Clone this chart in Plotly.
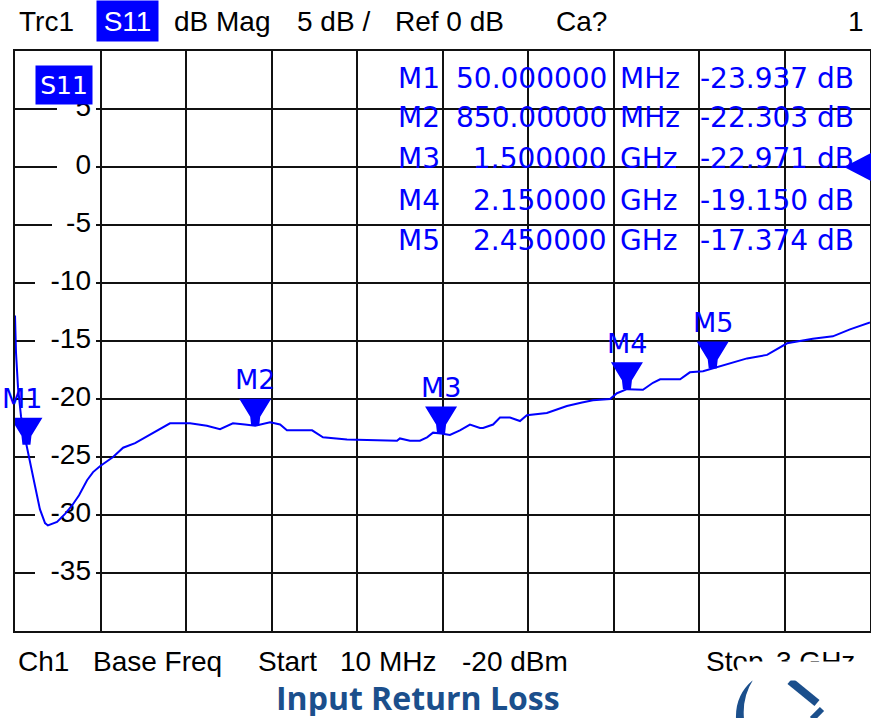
import plotly.graph_objects as go

# ---------------- data ----------------
freq_ghz = [0.010, 0.0135, 0.0205, 0.031, 0.050, 0.062, 0.080, 0.097, 0.115, 0.125,
            0.157, 0.185, 0.209, 0.234, 0.262, 0.283, 0.307, 0.353, 0.388, 0.430,
            0.465, 0.507, 0.528, 0.552, 0.622, 0.681, 0.727, 0.772, 0.814, 0.850,
            0.902, 0.937, 0.961, 1.049, 1.087, 1.171, 1.346, 1.356, 1.391, 1.426,
            1.451, 1.472, 1.500, 1.531, 1.566, 1.601, 1.636, 1.647, 1.682, 1.706,
            1.741, 1.776, 1.800, 1.870, 1.905, 1.940, 1.993, 2.031, 2.091, 2.115,
            2.150, 2.206, 2.241, 2.266, 2.336, 2.370, 2.416, 2.450, 2.485, 2.570,
            2.640, 2.710, 2.800, 2.870, 2.930, 3.000]
s11_db = [-12.8, -16.0, -19.0, -21.5, -23.94, -25.5, -27.5, -29.5, -30.7, -30.9,
          -30.6, -29.9, -29.2, -28.3, -27.0, -26.3, -25.8, -25.0, -24.2, -23.8,
          -23.3, -22.7, -22.4, -22.1, -22.1, -22.3, -22.6, -22.1, -22.2, -22.30,
          -22.0, -22.2, -22.7, -22.7, -23.3, -23.5, -23.6, -23.4, -23.6, -23.6,
          -23.3, -22.9, -22.97, -23.1, -22.7, -22.2, -22.5, -22.5, -22.2, -21.6,
          -21.6, -21.9, -21.4, -21.2, -20.9, -20.6, -20.3, -20.1, -20.0, -19.5,
          -19.15, -19.2, -18.6, -18.3, -18.3, -17.7, -17.6, -17.37, -17.1, -16.5,
          -16.2, -15.2, -14.8, -14.6, -14.0, -13.4]

marker_names = ["M1", "M2", "M3", "M4", "M5"]
marker_freq = [0.05, 0.85, 1.5, 2.15, 2.45]
marker_db = [-23.937, -22.303, -22.971, -19.150, -17.374]
marker_freq_text = ["50.000000", "850.00000", "1.500000", "2.150000", "2.450000"]
marker_unit = ["MHz", "MHz", "GHz", "GHz", "GHz"]

ytick_vals = [5, 0, -5, -10, -15, -20, -25, -30, -35]
ytick_text = ["5", "0", "-5", "-10", "-15", "-20", "-25", "-30", "-35"]

X_RANGE = [0.01, 3.0]
Y_RANGE = [-40, 10]
X_DTICK = 0.299
Y_DTICK = 5
REF_LEVEL = 0

# ---------------- layout helpers ----------------
W, H = 871, 718
L, R, T, B = 15, 1, 51, 87
PW = W - L - R
PH = H - T - B


def px(x):
    return (x - L) / PW


def py(y):
    return (H - B - y) / PH


def px_to_x(x):
    return X_RANGE[0] + (x - L) / PW * (X_RANGE[1] - X_RANGE[0])


BLUE = "#0000ff"
DARK = "#1b4f8c"
NARROW = "Liberation Sans, Arial, sans-serif"
MFONT = "DejaVu Sans, Verdana, sans-serif"

fig = go.Figure()

# y tick labels inside the first column
label_x = px_to_x(91)
fig.add_trace(go.Scatter(
    x=[label_x] * len(ytick_vals), y=ytick_vals, text=ytick_text,
    mode="text", textposition="middle left",
    textfont=dict(family=NARROW, size=28, color="black"),
    hoverinfo="skip", showlegend=False, cliponaxis=False))

# measured trace
fig.add_trace(go.Scatter(
    x=freq_ghz, y=s11_db, mode="lines",
    line=dict(color=BLUE, width=2), hoverinfo="skip", showlegend=False))

shapes = []
annotations = []

# white gaps in the grid behind tick labels
gap_by_len = {1: 40, 2: 45, 3: 62}
for t in ytick_text:
    g = gap_by_len[len(t)]
    shapes.append(dict(type="rect", xref="x", yref="y", xsizemode="pixel", ysizemode="pixel",
                       xanchor=label_x, yanchor=float(t), x0=6 - g, x1=5, y0=-3, y1=3,
                       fillcolor="white", line=dict(width=0), layer="between"))

# marker triangles and labels
for name, f, v in zip(marker_names, marker_freq, marker_db):
    shapes.append(dict(type="path", xref="x", yref="y", xsizemode="pixel", ysizemode="pixel",
                       xanchor=f, yanchor=v,
                       path="M -16,27 L 16,27 L 5,9 L 4,0 L -4,0 L -5,9 Z",
                       fillcolor=BLUE, line=dict(width=0), layer="above"))
    annotations.append(dict(x=f, y=v, xref="x", yref="y", text=name, showarrow=False,
                            yshift=46, xshift=-4 if name == "M1" else 0,
                            font=dict(family=MFONT, size=27, color=BLUE)))

# reference level arrow at right
shapes.append(dict(type="path", xref="paper", yref="y", xsizemode="pixel", ysizemode="pixel",
                   xanchor=1, yanchor=REF_LEVEL, path="M 1,14 L -26,0 L 1,-14 Z",
                   fillcolor=BLUE, line=dict(width=0), layer="above"))

# marker table
row_y = [78, 118, 158, 200, 240]
for name, ft, un, v, yy in zip(marker_names, marker_freq_text, marker_unit, marker_db, row_y):
    fnt = dict(family=MFONT, size=28, color=BLUE)
    annotations.append(dict(x=px(396), y=py(yy), xref="paper", yref="paper", text=name,
                            xanchor="left", yanchor="middle", showarrow=False, font=fnt))
    annotations.append(dict(x=px(609), y=py(yy), xref="paper", yref="paper", text=ft,
                            xanchor="right", yanchor="middle", showarrow=False, font=fnt))
    annotations.append(dict(x=px(618), y=py(yy), xref="paper", yref="paper", text=un,
                            xanchor="left", yanchor="middle", showarrow=False, font=fnt))
    annotations.append(dict(x=px(698), y=py(yy), xref="paper", yref="paper",
                            text=f"{v:.3f} dB", xanchor="left", yanchor="middle",
                            showarrow=False, font=fnt))

# S11 tag inside the plot
annotations.append(dict(x=px(35), y=py(65), xref="paper", yref="paper", text="S11",
                        xanchor="left", yanchor="top", showarrow=False,
                        bgcolor=BLUE, width=56, height=38, borderpad=0,
                        font=dict(family=MFONT, size=25, color="white")))

# header
annotations.append(dict(x=px(96), y=py(0), xref="paper", yref="paper", text="S11",
                        xanchor="left", yanchor="top", showarrow=False,
                        bgcolor=BLUE, width=61, height=40, borderpad=0,
                        font=dict(family=NARROW, size=28, color="white")))
hfont = dict(family=NARROW, size=28, color="black")
for txt, x0 in [("Trc1", 17), ("dB Mag", 172), ("5 dB /", 295), ("Ref 0 dB", 393), ("Ca?", 554)]:
    annotations.append(dict(x=px(x0), y=py(21), xref="paper", yref="paper", text=txt,
                            xanchor="left", yanchor="middle", showarrow=False, font=hfont))
annotations.append(dict(x=px(866), y=py(21), xref="paper", yref="paper", text="1",
                        xanchor="right", yanchor="middle", showarrow=False, font=hfont))

# footer
for txt, x0 in [("Ch1", 17), ("Base Freq", 92), ("Start", 257), ("10 MHz", 339),
                ("-20 dBm", 461), ("Stop", 705), ("3 GHz", 775)]:
    annotations.append(dict(x=px(x0), y=py(661), xref="paper", yref="paper", text=txt,
                            xanchor="left", yanchor="middle", showarrow=False, font=hfont,
                            height=31, borderpad=0))
# white area of the logo image covering the lower part of the stop text
annotations.append(dict(x=px(737), y=py(661), xref="paper", yref="paper", text=" ",
                        xanchor="left", yanchor="top", showarrow=False, bgcolor="white",
                        width=134, height=18, borderpad=0))

# title
annotations.append(dict(x=px(418), y=py(697), xref="paper", yref="paper",
                        text="<b>Input Return Loss</b>", xanchor="center", yanchor="middle",
                        showarrow=False, height=38, borderpad=0,
                        font=dict(family="Open Sans, Lato, sans-serif", size=32, color=DARK)))

# partial logo
def pt(x, y):
    return f"{px(x):.5f},{py(y):.5f}"


shapes.append(dict(type="path", xref="paper", yref="paper",
                   path=f"M {pt(753,680)} Q {pt(735,695)} {pt(736,719)} L {pt(744,719)} "
                        f"Q {pt(742,697)} {pt(753,680)} Z",
                   fillcolor=DARK, line=dict(width=0)))
shapes.append(dict(type="line", xref="paper", yref="paper", x0=px(790), y0=py(681),
                   x1=px(817), y1=py(703), line=dict(color=DARK, width=8)))
shapes.append(dict(type="line", xref="paper", yref="paper", x0=px(812), y0=py(719),
                   x1=px(822), y1=py(709), line=dict(color=DARK, width=6)))

fig.update_layout(
    width=W, height=H,
    margin=dict(l=L, r=R, t=T, b=B, pad=0, autoexpand=False),
    paper_bgcolor="white", plot_bgcolor="white",
    showlegend=False,
    shapes=shapes, annotations=annotations,
    xaxis=dict(range=X_RANGE, tick0=X_RANGE[0], dtick=X_DTICK, showticklabels=False,
               ticks="", showgrid=True, gridcolor="#111111", gridwidth=2, zeroline=False,
               showline=True, mirror=True, linecolor="#111111", linewidth=2, fixedrange=True),
    yaxis=dict(range=Y_RANGE, tick0=0, dtick=Y_DTICK, showticklabels=False,
               ticks="", showgrid=True, gridcolor="#111111", gridwidth=2, zeroline=False,
               showline=True, mirror=True, linecolor="#111111", linewidth=2, fixedrange=True),
)

fig.write_html("out.html", config={"displayModeBar": False},
               post_script="document.body.style.margin='0px';"
                           "document.body.style.overflow='hidden';")
